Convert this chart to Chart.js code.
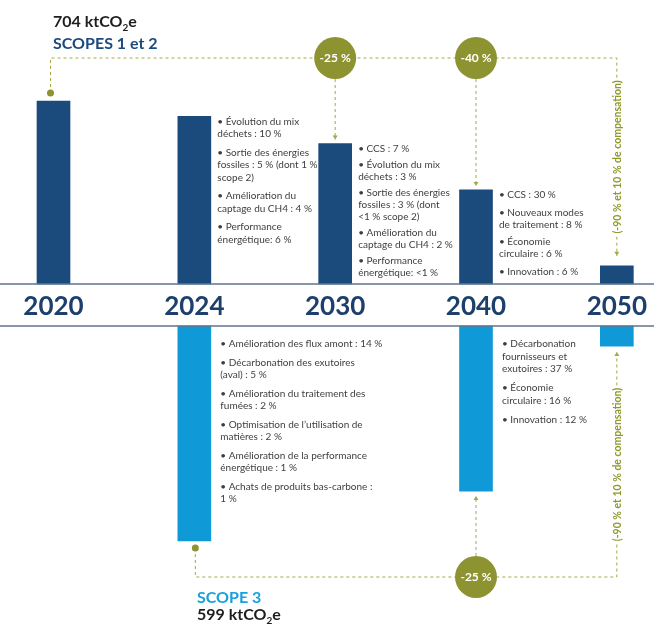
<!DOCTYPE html>
<html><head><meta charset="utf-8">
<script src="https://cdn.jsdelivr.net/npm/chart.js@4/dist/chart.umd.min.js"></script>
<style>html,body{margin:0;padding:0;background:#fff;}#wrap{width:654px;height:625px;position:relative}</style>
</head><body><div id="wrap"><canvas id="c" width="654" height="625"></canvas></div>
<script>
// ---- data ----
const years = ['2020', '2024', '2030', '2040', '2050'];
const scopes12 = [704, 645, 540, 362, 70];          // ktCO2e, scopes 1 et 2
const scope3 = [null, 599, null, 460, 56];           // ktCO2e, scope 3
const scopes12Title = ['704 ktCO', '2', 'e'];
const scopes12Name = 'SCOPES 1 et 2';
const scope3Title = ['599 ktCO', '2', 'e'];
const scope3Name = 'SCOPE 3';
const badges12 = [null, null, '-25 %', '-40 %', null];
const badges3 = [null, null, null, '-25 %', null];
const compensationLabel = '(-90 % et 10 % de compensation)';
const notes12_2024 = [
  ['• Évolution du mix', 'déchets : 10 %'],
  ['• Sortie des énergies', 'fossiles : 5 % (dont 1 %', 'scope 2)'],
  ['• Amélioration du', 'captage du CH4 : 4 %'],
  ['• Performance', 'énergétique: 6 %']
];
const notes12_2030 = [
  ['• CCS : 7 %'],
  ['• Évolution du mix', 'déchets : 3 %'],
  ['• Sortie des énergies', 'fossiles : 3 % (dont', '<1 % scope 2)'],
  ['• Amélioration du', 'captage du CH4 : 2 %'],
  ['• Performance', 'énergétique: <1 %']
];
const notes12_2040 = [
  ['• CCS : 30 %'],
  ['• Nouveaux modes', 'de traitement : 8 %'],
  ['• Économie', 'circulaire : 6 %'],
  ['• Innovation : 6 %']
];
const notes3_2024 = [
  ['• Amélioration des flux amont : 14 %'],
  ['• Décarbonation des exutoires', '(aval) : 5 %'],
  ['• Amélioration du traitement des', 'fumées : 2 %'],
  ['• Optimisation de l’utilisation de', 'matières : 2 %'],
  ['• Amélioration de la performance', 'énergétique : 1 %'],
  ['• Achats de produits bas-carbone :', '1 %']
];
const notes3_2040 = [
  ['• Décarbonation', 'fournisseurs et', 'exutoires : 37 %'],
  ['• Économie', 'circulaire : 16 %'],
  ['• Innovation : 12 %']
];
const notes12 = [null, notes12_2024, notes12_2030, notes12_2040, null];
const notes3 = [null, notes3_2024, null, notes3_2040, null];

// ---- styles ----
const NAVY = '#1b4a7d', BLUE = '#0f9ad7', OLIVE = '#8e9332', OLIVE_L = '#a4a847', OLIVE_T = '#8f9a2b';
const FONT = 'Lato, "Open Sans", sans-serif';
const spacing12 = [null, [12.5, 6], [12, 4], [12, 5.5], null];   // [line height, paragraph gap]
const spacing3 = [null, [12.5, 6], null, [12.5, 6.5], null];

function drawCO2(ctx, parts, x, y, size, color) {
  ctx.fillStyle = color;
  ctx.textBaseline = 'alphabetic';
  ctx.textAlign = 'left';
  ctx.font = 'bold ' + size + 'px ' + FONT;
  ctx.fillText(parts[0], x, y);
  let w = ctx.measureText(parts[0]).width;
  ctx.font = 'bold ' + Math.round(size * 0.6) + 'px ' + FONT;
  ctx.fillText(parts[1], x + w, y + size * 0.22);
  w += ctx.measureText(parts[1]).width;
  ctx.font = 'bold ' + size + 'px ' + FONT;
  ctx.fillText(parts[2], x + w, y);
}
function dashed(ctx, pts) {
  ctx.save();
  ctx.strokeStyle = OLIVE_L; ctx.lineWidth = 1; ctx.setLineDash([3, 3]);
  ctx.beginPath();
  ctx.moveTo(pts[0][0], pts[0][1]);
  for (let i = 1; i < pts.length; i++) ctx.lineTo(pts[i][0], pts[i][1]);
  ctx.stroke();
  ctx.restore();
}
function arrow(ctx, x, y, dir) { // dir 1 = down, -1 = up; (x,y) tip
  ctx.fillStyle = OLIVE_L;
  ctx.beginPath();
  ctx.moveTo(x, y); ctx.lineTo(x - 2.5, y - 4 * dir); ctx.lineTo(x + 2.5, y - 4 * dir); ctx.closePath();
  ctx.fill();
}
function dot(ctx, x, y) { ctx.fillStyle = OLIVE; ctx.beginPath(); ctx.arc(x, y, 3.5, 0, Math.PI * 2); ctx.fill(); }
function badge(ctx, x, y, text) {
  ctx.fillStyle = OLIVE; ctx.beginPath(); ctx.arc(x, y, 21, 0, Math.PI * 2); ctx.fill();
  ctx.fillStyle = '#fff'; ctx.font = 'bold 12px ' + FONT; ctx.textAlign = 'center'; ctx.textBaseline = 'middle';
  ctx.fillText(text, x, y + 0.5);
}
function vtext(ctx, x, y, text) {
  ctx.save();
  ctx.translate(x, y); ctx.rotate(-Math.PI / 2);
  ctx.font = 'bold 10.5px ' + FONT; ctx.textAlign = 'center'; ctx.textBaseline = 'middle';
  const w = ctx.measureText(text).width;
  ctx.fillStyle = '#fff'; ctx.fillRect(-w / 2 - 2, -6, w + 4, 12);
  ctx.fillStyle = OLIVE_T; ctx.fillText(text, 0, 0.5);
  ctx.restore();
}
function notes(ctx, items, x, yFirst, sp) {
  ctx.font = '10px ' + FONT; ctx.fillStyle = '#3e3e3e'; ctx.textAlign = 'left'; ctx.textBaseline = 'middle';
  let y = yFirst;
  items.forEach(lines => {
    lines.forEach(l => { ctx.fillText(l, x, y); y += sp[0]; });
    y += sp[1];
  });
}

const decor = {
  id: 'decor',
  beforeDraw(chart) {
    const ctx = chart.ctx; ctx.save(); ctx.fillStyle = '#fff'; ctx.fillRect(0, 0, chart.width, chart.height); ctx.restore();
  },
  afterDraw(chart) {
    const ctx = chart.ctx, x = chart.scales.x, yT = chart.scales.yTop, yB = chart.scales.yBot;
    const W = chart.width;
    const t0 = yT.getPixelForValue(0), b0 = yB.getPixelForValue(0);
    ctx.save();
    // axis bands
    ctx.strokeStyle = '#5f7590'; ctx.lineWidth = 1.5;
    ctx.beginPath(); ctx.moveTo(0, t0); ctx.lineTo(W, t0); ctx.moveTo(0, b0); ctx.lineTo(W, b0); ctx.stroke();

    // titles
    drawCO2(ctx, scopes12Title, 53, 27, 16, '#1e1e1e');
    ctx.fillStyle = NAVY; ctx.font = 'bold 16px ' + FONT; ctx.textAlign = 'left'; ctx.textBaseline = 'alphabetic';
    ctx.fillText(scopes12Name, 53, 49);
    ctx.fillStyle = '#1aa0dc'; ctx.fillText(scope3Name, 197, 603);
    drawCO2(ctx, scope3Title, 197, 620, 16, '#1e1e1e');

    const last = years.length - 1;
    const xr = x.getPixelForValue(last);
    // top connector
    const Yc = 58;
    const d0x = x.getPixelForValue(0) - 3, d0y = yT.getPixelForValue(scopes12[0]) - 8;
    const tipTop = yT.getPixelForValue(scopes12[last]) - 10;
    dashed(ctx, [[d0x, d0y], [d0x, Yc], [xr, Yc], [xr, tipTop]]);
    dot(ctx, d0x, d0y);
    arrow(ctx, xr, tipTop, 1);
    vtext(ctx, xr, (Yc + tipTop) / 2, compensationLabel);
    badges12.forEach((b, i) => {
      if (!b) return;
      const cx = x.getPixelForValue(i), tip = yT.getPixelForValue(scopes12[i]) - 4;
      dashed(ctx, [[cx, Yc + 21], [cx, tip]]);
      arrow(ctx, cx, tip, 1);
      badge(ctx, cx, Yc, b);
    });
    // bottom connector
    const Yb = 577;
    const d1x = x.getPixelForValue(1) + 1, d1y = yB.getPixelForValue(scope3[1]) + 7;
    const tipBot = yB.getPixelForValue(scope3[last]) + 6;
    dashed(ctx, [[d1x, d1y], [d1x, Yb], [xr, Yb], [xr, tipBot]]);
    dot(ctx, d1x, d1y);
    arrow(ctx, xr, tipBot, -1);
    vtext(ctx, xr, (Yb + tipBot) / 2, compensationLabel);
    badges3.forEach((b, i) => {
      if (!b) return;
      const cx = x.getPixelForValue(i), tip = yB.getPixelForValue(scope3[i]) + 5;
      dashed(ctx, [[cx, Yb - 21], [cx, tip]]);
      arrow(ctx, cx, tip, -1);
      badge(ctx, cx, Yb, b);
    });

    // notes
    notes12.forEach((n, i) => { if (n) notes(ctx, n, x.getPixelForValue(i) + 23, yT.getPixelForValue(scopes12[i]) + 5, spacing12[i]); });
    notes3.forEach((n, i) => { if (n) notes(ctx, n, x.getPixelForValue(i) + 26, b0 + 18, spacing3[i]); });
    ctx.restore();
  }
};

new Chart(document.getElementById('c').getContext('2d'), {
  type: 'bar',
  data: {
    labels: years,
    datasets: [
      { label: 'Scopes 1 et 2', data: scopes12, yAxisID: 'yTop', backgroundColor: NAVY, barThickness: 33, grouped: false, clip: false },
      { label: 'Scope 3', data: scope3, yAxisID: 'yBot', backgroundColor: BLUE, barThickness: 33, grouped: false, clip: false }
    ]
  },
  options: {
    responsive: false, animation: false,
    layout: { padding: { left: 53.5, right: 34.5, top: 0, bottom: 0 } },
    plugins: { legend: { display: false }, tooltip: { enabled: false } },
    scales: {
      x: {
        type: 'category', offset: false, position: { yTop: 0 },
        grid: { display: false, drawTicks: false }, border: { display: false },
        ticks: { padding: 7, color: '#1c3f6c', autoSkip: false, maxRotation: 0, font: { family: FONT, size: 26, weight: 'bold' } }
      },
      yBot: { type: 'linear', position: 'left', stack: 'v', stackWeight: 299, min: 0, max: 833, reverse: true, display: false },
      yMid: { type: 'linear', position: 'left', stack: 'v', stackWeight: 42, min: 0, max: 1, display: false },
      yTop: { type: 'linear', position: 'left', stack: 'v', stackWeight: 284, min: 0, max: 1092.5, display: false }
    }
  },
  plugins: [decor]
});
</script>
</body></html>
